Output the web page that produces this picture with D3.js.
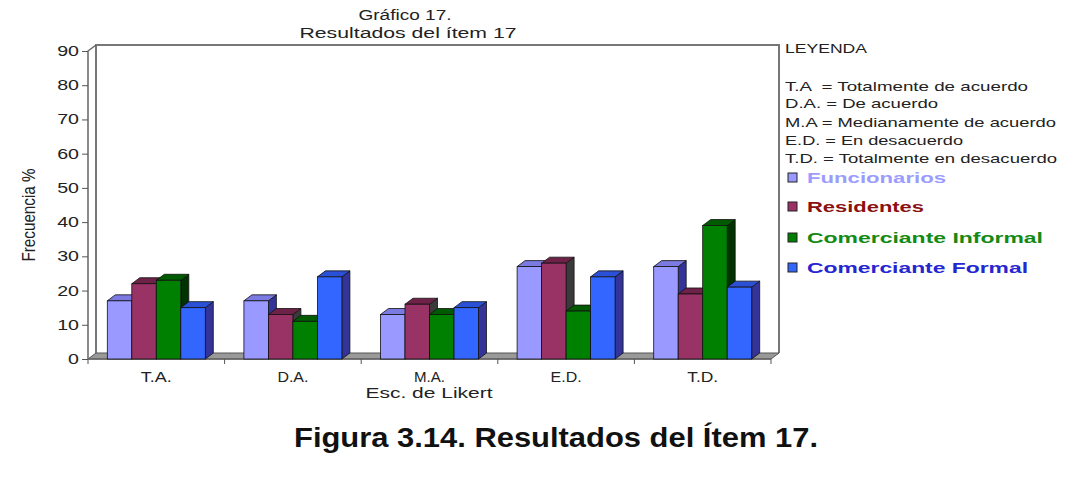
<!DOCTYPE html>
<html>
<head>
<meta charset="utf-8">
<script src="https://cdn.jsdelivr.net/npm/d3@7"></script>
<style>
  body { margin: 0; background: #fff; }
  svg { display: block; }
  text { font-family: "Liberation Sans", Arial, sans-serif; fill: #222; white-space: pre; }
</style>
</head>
<body>
<svg id="chart" width="1079" height="492"></svg>
<script>
// data
var categories = ['T.A.', 'D.A.', 'M.A.', 'E.D.', 'T.D.'];
var seriesNames = ['Funcionarios', 'Residentes', 'Comerciante Informal', 'Comerciante Formal'];
var funcionarios = [17, 17, 13, 27, 27];
var residentes = [22, 13, 16, 28, 19];
var informal = [23, 11, 13, 14, 39];
var formal = [15, 24, 15, 24, 21];
var yTicks = [0, 10, 20, 30, 40, 50, 60, 70, 80, 90];
var legendLines = [
  'T.A  = Totalmente de acuerdo',
  'D.A. = De acuerdo',
  'M.A = Medianamente de acuerdo',
  'E.D. = En desacuerdo',
  'T.D. = Totalmente en desacuerdo'
];

var values = [funcionarios, residentes, informal, formal];
var front = ['#9999ff', '#993366', '#008000', '#3366ff'];
var top_ = ['#7a7ae0', '#6e2248', '#005a00', '#2a50d8'];
var side = ['#33339a', '#3a3a3a', '#003300', '#333399'];
var legendText = ['#9c9cff', '#8b1010', '#138a13', '#2626d0'];

var dx = 8, dy = 6;
var svg = d3.select('#chart');

var x = d3.scaleBand().domain(categories).range([88, 771]);
var inner = d3.scaleBand().domain(d3.range(4)).range([0, 98]);
var y = d3.scaleLinear().domain([0, 90]).range([359, 51]);

// stretch text horizontally: to a width (number) or by a factor (k)
function fit(sel, w, k) {
  sel.each(function () {
    var len = this.getComputedTextLength();
    var target = w != null ? w : len * (k || 1.35);
    d3.select(this).attr('textLength', target).attr('lengthAdjust', 'spacingAndGlyphs');
  });
  return sel;
}

// back wall
var y0 = y(0), yTop = y(90);
svg.append('path')
  .attr('d', 'M' + (88 + dx) + ',' + (y0 - dy) + 'V' + (yTop - dy) + 'H' + (771 + dx) + 'V' + (y0 - dy))
  .attr('fill', 'none').attr('stroke', '#777').attr('stroke-width', 2);

// floor
svg.append('path')
  .attr('d', 'M88,' + y0 + 'L' + (88 + dx) + ',' + (y0 - dy) + 'H' + (771 + dx) + 'L771,' + y0 + 'Z')
  .attr('fill', '#999').attr('stroke', '#555').attr('stroke-width', 1);

// y axis (front)
svg.append('path')
  .attr('d', 'M88,' + y0 + 'V' + yTop + 'L' + (88 + dx) + ',' + (yTop - dy))
  .attr('fill', 'none').attr('stroke', '#666').attr('stroke-width', 1.5);

var yAxis = svg.append('g').attr('transform', 'translate(88,0)')
  .call(d3.axisLeft(y).tickValues(yTicks).tickSize(6).tickPadding(3));
yAxis.select('.domain').remove();
yAxis.selectAll('line').attr('stroke', '#555');
yAxis.selectAll('text').attr('font-size', 14).attr('fill', '#333')
  .attr('font-family', '"Liberation Sans", Arial, sans-serif')
  .call(fit, null, 1.4);

// x axis
svg.append('line').attr('x1', 88).attr('x2', 771).attr('y1', y0).attr('y2', y0)
  .attr('stroke', '#666').attr('stroke-width', 1.5);
var xTicks = categories.map(function (c) { return x(c); }).concat([x.range()[1]]);
svg.selectAll('.xtick').data(xTicks).enter().append('line')
  .attr('x1', function (d) { return d; }).attr('x2', function (d) { return d; })
  .attr('y1', y0).attr('y2', y0 + 5).attr('stroke', '#555');
svg.selectAll('.xlab').data(categories).enter().append('text')
  .attr('x', function (d) { return x(d) + x.bandwidth() / 2; })
  .attr('y', 382).attr('text-anchor', 'middle').attr('font-size', 14).attr('fill', '#333')
  .text(function (d) { return d; })
  .call(fit, 31);

// bars
var offset = (x.bandwidth() - 98) / 2;
var bw = inner.bandwidth();
categories.forEach(function (c, ci) {
  var g = svg.append('g');
  values.forEach(function (vals, si) {
    var x1 = x(c) + offset + inner(si), x2 = x1 + bw, yv = y(vals[ci]);
    g.append('path')
      .attr('d', 'M' + x2 + ',' + yv + 'L' + (x2 + dx) + ',' + (yv - dy) + 'V' + (y0 - dy) + 'L' + x2 + ',' + y0 + 'Z')
      .attr('fill', side[si]).attr('stroke', '#111').attr('stroke-width', 0.8);
    g.append('path')
      .attr('d', 'M' + x1 + ',' + yv + 'L' + (x1 + dx) + ',' + (yv - dy) + 'H' + (x2 + dx) + 'L' + x2 + ',' + yv + 'Z')
      .attr('fill', top_[si]).attr('stroke', '#111').attr('stroke-width', 0.8);
    g.append('rect')
      .attr('x', x1).attr('y', yv).attr('width', bw).attr('height', y0 - yv)
      .attr('fill', front[si]).attr('stroke', '#111').attr('stroke-width', 0.8);
  });
});

// titles
svg.append('text').attr('x', 405).attr('y', 20).attr('text-anchor', 'middle')
  .attr('font-size', 14).attr('fill', '#333').text('Gráfico 17.').call(fit, 93);
svg.append('text').attr('x', 408).attr('y', 38).attr('text-anchor', 'middle')
  .attr('font-size', 14).attr('fill', '#333').text('Resultados del ítem 17').call(fit, 217);
svg.append('text').attr('x', 429).attr('y', 398).attr('text-anchor', 'middle')
  .attr('font-size', 14).attr('fill', '#333').text('Esc. de Likert').call(fit, 127);
svg.append('text').attr('transform', 'translate(35,215) scale(1.3,1) rotate(-90)').attr('text-anchor', 'middle')
  .attr('font-size', 14).attr('fill', '#333').text('Frecuencia %').call(fit, 93);

// legend
svg.append('text').attr('x', 785).attr('y', 53).attr('font-size', 13).text('LEYENDA').call(fit, 82);
var lineBase = [91, 108, 127, 145, 163];
var lineWidth = [243, 153, 271, 178, 272];
svg.selectAll('.lline').data(legendLines).enter().append('text')
  .attr('x', 785).attr('y', function (d, i) { return lineBase[i]; })
  .attr('font-size', 13).text(function (d) { return d; })
  .each(function (d, i) { fit(d3.select(this), lineWidth[i]); });

var itemBase = [183, 212, 243, 273];
var itemWidth = [139, 117, 236, 221];
seriesNames.forEach(function (name, i) {
  svg.append('rect').attr('x', 788).attr('y', itemBase[i] - 10).attr('width', 9).attr('height', 9)
    .attr('fill', front[i]).attr('stroke', '#222').attr('stroke-width', 1);
  svg.append('text').attr('x', 807).attr('y', itemBase[i]).attr('font-size', 15)
    .attr('font-weight', 'bold').style('fill', legendText[i]).text(name)
    .call(fit, itemWidth[i]);
});

// caption
svg.append('text').attr('x', 556).attr('y', 447).attr('text-anchor', 'middle')
  .attr('font-family', '"DejaVu Sans Condensed", "DejaVu Sans", sans-serif')
  .attr('font-size', 28).attr('font-weight', 'bold').style('fill', '#111')
  .text('Figura 3.14. Resultados del Ítem 17.').call(fit, 524);
</script>
</body>
</html>
